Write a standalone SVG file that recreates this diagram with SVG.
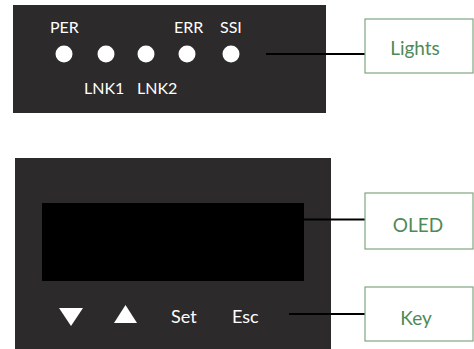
<svg xmlns="http://www.w3.org/2000/svg" width="474" height="349" viewBox="0 0 474 349">
<style>
.panel{fill:#2d2a2b}
.led{fill:#ffffff}
.lbl{font-family:Lato,"Open Sans",sans-serif;font-size:16px;fill:#ffffff}
.key{font-family:Lato,"Open Sans",sans-serif;font-size:18px;fill:#ffffff}
.box{fill:#ffffff;stroke:#7fa57f;stroke-width:1.2}
.btxt{font-family:Lato,"Open Sans",sans-serif;font-size:19px;fill:#4e8a57;text-anchor:middle}
.conn{stroke:#000000;stroke-width:2;fill:none}
</style>
<rect width="474" height="349" fill="#ffffff"/>
<g id="lights-panel">
<rect class="panel" x="13" y="5" width="313" height="108"/>
<circle class="led" cx="64" cy="54" r="8.5"/>
<circle class="led" cx="106" cy="54" r="8.5"/>
<circle class="led" cx="146" cy="54" r="8.5"/>
<circle class="led" cx="187" cy="54" r="8.5"/>
<circle class="led" cx="231" cy="54" r="8.5"/>
<text class="lbl" x="50" y="33">PER</text>
<text class="lbl" x="174" y="33">ERR</text>
<text class="lbl" x="220" y="33">SSI</text>
<text class="lbl" x="84" y="94">LNK1</text>
<text class="lbl" x="137" y="94">LNK2</text>
</g>
<g id="oled-panel">
<rect class="panel" x="15" y="158" width="316" height="191"/>
<rect x="42" y="203" width="262" height="78" fill="#000000"/>
<polygon class="led" points="59,308 83,308 71,326"/>
<polygon class="led" points="114,323 137,323 125.5,305"/>
<text class="key" x="171" y="323">Set</text>
<text class="key" x="232" y="323">Esc</text>
</g>
<g id="connectors">
<line class="conn" x1="266" y1="54" x2="365" y2="54"/>
<line class="conn" x1="304" y1="219.5" x2="369" y2="219.5"/>
<line class="conn" x1="289" y1="314" x2="365" y2="314"/>
</g>
<g id="lights">
<rect class="box" x="365" y="19" width="108" height="54"/>
<text class="btxt" x="415" y="55">Lights</text>
</g>
<g id="oled">
<rect class="box" x="365" y="193" width="108" height="56"/>
<text class="btxt" x="418" y="232">OLED</text>
</g>
<g id="key">
<rect class="box" x="365" y="287" width="108" height="54"/>
<text class="btxt" x="416" y="325">Key</text>
</g>
</svg>
